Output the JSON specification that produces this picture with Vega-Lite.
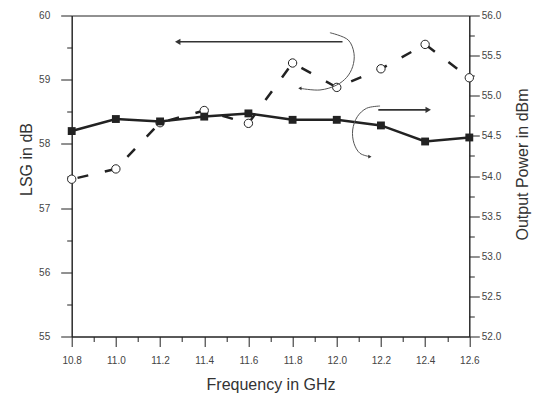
{
  "$schema": "https://vega.github.io/schema/vega-lite/v6.json",
  "width": 397.6,
  "height": 321,
  "autosize": "none",
  "padding": {"left": 71.7, "top": 15.5, "right": 66.7, "bottom": 62.5},
  "background": "white",
  "config": {
    "view": {"stroke": "#222", "strokeWidth": 1},
    "axis": {
      "labelFont": "Liberation Sans",
      "titleFont": "Liberation Sans",
      "labelFontSize": 10,
      "labelColor": "#444",
      "titleColor": "#333",
      "titleFontSize": 16,
      "titleFontWeight": "normal",
      "domainColor": "#222",
      "tickColor": "#222",
      "grid": false,
      "labelFlush": false,
      "labelOverlap": false,
      "labelBound": false
    }
  },
  "datasets": {
    "lsg": [
      {"freq": 10.8, "lsg": 57.45},
      {"freq": 11.0, "lsg": 57.61},
      {"freq": 11.2, "lsg": 58.33},
      {"freq": 11.4, "lsg": 58.52},
      {"freq": 11.6, "lsg": 58.32},
      {"freq": 11.8, "lsg": 59.26},
      {"freq": 12.0, "lsg": 58.88},
      {"freq": 12.2, "lsg": 59.17},
      {"freq": 12.4, "lsg": 59.55},
      {"freq": 12.6, "lsg": 59.03}
    ],
    "power": [
      {"freq": 10.8, "power": 54.56},
      {"freq": 11.0, "power": 54.71},
      {"freq": 11.2, "power": 54.68},
      {"freq": 11.4, "power": 54.74},
      {"freq": 11.6, "power": 54.78},
      {"freq": 11.8, "power": 54.70},
      {"freq": 12.0, "power": 54.70},
      {"freq": 12.2, "power": 54.63},
      {"freq": 12.4, "power": 54.43},
      {"freq": 12.6, "power": 54.48}
    ],
    "arrows": [
      {"from": 12.026, "to": 11.28, "level": 59.59, "dir": "left"},
      {"from": 12.188, "to": 12.414, "level": 58.53, "dir": "right"}
    ],
    "curves": [
      {"curve": "a", "i": 0, "freq": 11.969, "level": 59.732},
      {"curve": "a", "i": 1, "freq": 12.052, "level": 59.618},
      {"curve": "a", "i": 2, "freq": 12.078, "level": 59.411},
      {"curve": "a", "i": 3, "freq": 12.072, "level": 59.203},
      {"curve": "a", "i": 4, "freq": 12.045, "level": 59.037},
      {"curve": "a", "i": 5, "freq": 12.0, "level": 58.917},
      {"curve": "a", "i": 6, "freq": 11.924, "level": 58.84},
      {"curve": "a", "i": 7, "freq": 11.833, "level": 58.866},
      {"curve": "b", "i": 0, "freq": 12.196, "level": 58.59},
      {"curve": "b", "i": 1, "freq": 12.135, "level": 58.555},
      {"curve": "b", "i": 2, "freq": 12.093, "level": 58.424},
      {"curve": "b", "i": 3, "freq": 12.072, "level": 58.217},
      {"curve": "b", "i": 4, "freq": 12.078, "level": 58.009},
      {"curve": "b", "i": 5, "freq": 12.105, "level": 57.854},
      {"curve": "b", "i": 6, "freq": 12.15, "level": 57.801}
    ],
    "heads": [
      {"freq": 11.28, "level": 59.59, "dir": "left", "kind": "big"},
      {"freq": 12.414, "level": 58.53, "dir": "right", "kind": "big"},
      {"freq": 11.833, "level": 58.866, "dir": "left", "kind": "small"},
      {"freq": 12.15, "level": 57.801, "dir": "right", "kind": "small"}
    ]
  },
  "layer": [
    {
      "data": {"name": "lsg"},
      "mark": {"type": "line", "color": "#222", "strokeWidth": 2.5, "strokeDash": [11, 17], "strokeDashOffset": -6},
      "encoding": {
        "x": {
          "field": "freq", "type": "quantitative",
          "scale": {"domain": [10.8, 12.6], "nice": false, "zero": false},
          "axis": {
            "orient": "bottom",
            "values": [10.8, 11.0, 11.2, 11.4, 11.6, 11.8, 12.0, 12.2, 12.4, 12.6],
            "format": ".1f",
            "tickSize": 10,
            "labelPadding": 9,
            "title": "Frequency in GHz",
            "titlePadding": 11
          }
        },
        "y": {
          "field": "lsg", "type": "quantitative",
          "scale": {"domain": [55, 60], "nice": false, "zero": false},
          "axis": {
            "orient": "left",
            "values": [55, 56, 57, 58, 59, 60],
            "format": "d",
            "tickSize": 11,
            "labelPadding": 11,
            "title": "LSG in dB",
            "titleY": 143.5,
            "titlePadding": 4
          }
        }
      }
    },
    {
      "data": {"name": "lsg"},
      "mark": {"type": "point", "shape": "circle", "size": 70, "filled": true, "fill": "white", "stroke": "#222", "strokeWidth": 1, "opacity": 1},
      "encoding": {
        "x": {
          "field": "freq", "type": "quantitative",
          "scale": {"domain": [10.8, 12.6], "nice": false, "zero": false},
          "axis": {
            "orient": "bottom",
            "values": [10.9, 11.1, 11.3, 11.5, 11.7, 11.9, 12.1, 12.3, 12.5],
            "labels": false, "domain": false, "tickSize": 5, "title": null
          }
        },
        "y": {
          "field": "lsg", "type": "quantitative",
          "scale": {"domain": [55, 60], "nice": false, "zero": false},
          "axis": {
            "orient": "left",
            "values": [55.5, 56.5, 57.5, 58.5, 59.5],
            "labels": false, "domain": false, "tickSize": 5, "title": null
          }
        }
      }
    },
    {
      "data": {"name": "power"},
      "mark": {"type": "line", "color": "#222", "strokeWidth": 2.5},
      "encoding": {
        "x": {"field": "freq", "type": "quantitative", "scale": {"domain": [10.8, 12.6], "nice": false, "zero": false}, "axis": null},
        "y": {
          "field": "power", "type": "quantitative",
          "scale": {"domain": [52, 56], "nice": false, "zero": false},
          "axis": {
            "orient": "right",
            "values": [52, 52.5, 53, 53.5, 54, 54.5, 55, 55.5, 56],
            "format": ".1f",
            "tickSize": 10,
            "labelPadding": 2,
            "title": "Output Power in dBm",
            "titleAngle": 270,
            "titleBaseline": "top",
            "titleY": 148.5,
            "titlePadding": 14
          }
        }
      }
    },
    {
      "data": {"name": "power"},
      "mark": {"type": "point", "shape": "square", "size": 62, "filled": true, "color": "#222", "opacity": 1},
      "encoding": {
        "x": {"field": "freq", "type": "quantitative", "scale": {"domain": [10.8, 12.6], "nice": false, "zero": false}, "axis": null},
        "y": {
          "field": "power", "type": "quantitative",
          "scale": {"domain": [52, 56], "nice": false, "zero": false},
          "axis": {
            "orient": "right",
            "values": [52.25, 52.75, 53.25, 53.75, 54.25, 54.75, 55.25, 55.75],
            "labels": false, "domain": false, "tickSize": 5, "title": null
          }
        }
      }
    },
    {
      "data": {"name": "arrows"},
      "mark": {"type": "rule", "color": "#333", "strokeWidth": 1.6},
      "encoding": {
        "x": {"field": "from", "type": "quantitative", "scale": {"domain": [10.8, 12.6], "nice": false, "zero": false}, "axis": null},
        "x2": {"field": "to"},
        "y": {"field": "level", "type": "quantitative", "scale": {"domain": [55, 60], "nice": false, "zero": false}, "axis": null}
      }
    },
    {
      "data": {"name": "curves"},
      "mark": {"type": "line", "color": "#555", "strokeWidth": 1, "interpolate": "catmull-rom"},
      "encoding": {
        "x": {"field": "freq", "type": "quantitative", "scale": {"domain": [10.8, 12.6], "nice": false, "zero": false}, "axis": null},
        "y": {"field": "level", "type": "quantitative", "scale": {"domain": [55, 60], "nice": false, "zero": false}, "axis": null},
        "detail": {"field": "curve"},
        "order": {"field": "i", "type": "quantitative"}
      }
    },
    {
      "data": {"name": "heads"},
      "mark": {"type": "point", "filled": true, "color": "#333", "opacity": 1},
      "encoding": {
        "x": {"field": "freq", "type": "quantitative", "scale": {"domain": [10.8, 12.6], "nice": false, "zero": false}, "axis": null},
        "y": {"field": "level", "type": "quantitative", "scale": {"domain": [55, 60], "nice": false, "zero": false}, "axis": null},
        "shape": {"field": "dir", "type": "nominal", "scale": {"domain": ["left", "right"], "range": ["triangle-left", "triangle-right"]}, "legend": null},
        "size": {"field": "kind", "type": "nominal", "scale": {"domain": ["big", "small"], "range": [40, 14]}, "legend": null}
      }
    }
  ],
  "resolve": {
    "scale": {"y": "independent"},
    "axis": {"x": "independent", "y": "independent"}
  }
}
